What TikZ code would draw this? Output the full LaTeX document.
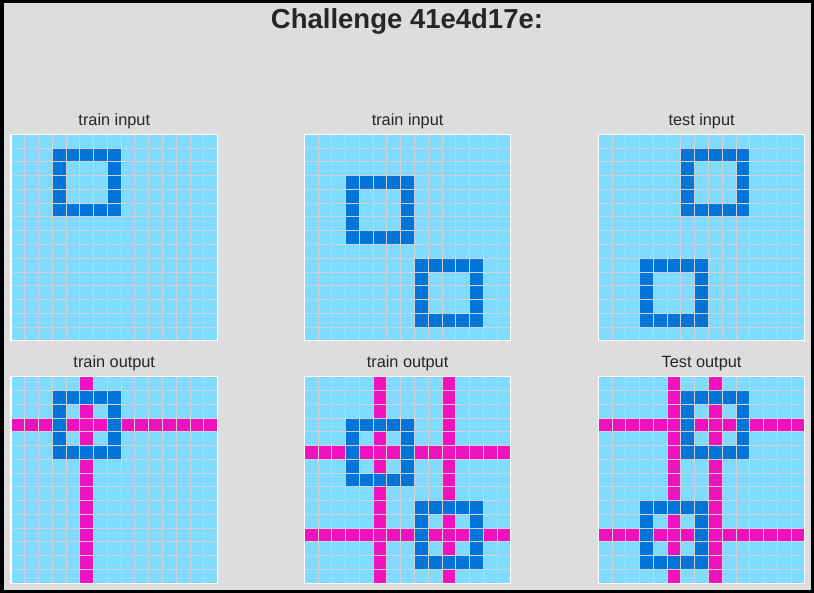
\documentclass[tikz,border=0pt]{standalone}
\usepackage{fontspec}
\setmainfont{Liberation Sans}
\usepackage{tikz}

\definecolor{sky}{HTML}{7FDBFF}
\definecolor{navy}{HTML}{0074D9}
\definecolor{pink}{HTML}{F012BE}
\definecolor{panel}{HTML}{DDDDDD}
\definecolor{ink}{HTML}{262626}

\def\cs{13.77}

% one 15x15 board: #1 name, #2 top left corner, #3 squares (row/col of top left cell), #4 1 = draw the lines
\newcommand{\arcboard}[4]{%
  \begin{scope}[shift={(#2)}]
    \fill[sky] (0,0) rectangle (15*\cs,15*\cs);
    \ifnum#4=1
      \foreach \r/\c in {#3} {
        \fill[pink] (0,{(\r+2)*\cs}) rectangle (15*\cs,{(\r+3)*\cs});
        \fill[pink] ({(\c+2)*\cs},0) rectangle ({(\c+3)*\cs},15*\cs);
      }
    \fi
    \foreach \r/\c in {#3}
      \fill[navy, even odd rule] ({\c*\cs},{\r*\cs}) rectangle ++(5*\cs,5*\cs)
        ({(\c+1)*\cs},{(\r+1)*\cs}) rectangle ++(3*\cs,3*\cs);
    \foreach \i in {1,...,14} {
      \draw[cellline] ({\i*\cs},0) -- ({\i*\cs},15*\cs);
      \draw[cellline] (0,{\i*\cs}) -- (15*\cs,{\i*\cs});
    }
    \draw[frame] (0,0) rectangle (15*\cs,15*\cs);
    \coordinate (#1) at (7.5*\cs,0);
  \end{scope}}

\begin{document}
\begin{tikzpicture}[
  x=1pt, y=-1pt,
  cellline/.style={draw=black!18, line width=0.9pt},
  frame/.style={draw=white, line width=1.2pt},
  heading/.style={anchor=base, text=ink, font=\fontsize{27.5}{30}\selectfont\bfseries},
  caption/.style={anchor=base, text=ink, font=\fontsize{16.3}{18}\selectfont, inner sep=0pt}
]
\fill[black] (0,0) rectangle (814,593);
\fill[panel] (3.5,3.5) rectangle (810.5,589.5);

\node[heading] (title) at (407,29) {Challenge 41e4d17e:};

% inputs
\arcboard{in1}{11,134.3}{1/3}{0}
\arcboard{in2}{304.3,134.3}{3/3,9/8}{0}
\arcboard{in3}{598.3,134.3}{1/6,9/3}{0}

% outputs
\arcboard{out1}{11,376.7}{1/3}{1}
\arcboard{out2}{304.3,376.7}{3/3,9/8}{1}
\arcboard{out3}{598.3,376.7}{1/6,9/3}{1}

\node[caption] (capin1) at ([yshift=8.3]in1) {train input};
\node[caption] (capin2) at ([yshift=8.3]in2) {train input};
\node[caption] (capin3) at ([yshift=8.3]in3) {test input};
\node[caption] (capout1) at ([yshift=9]out1) {train output};
\node[caption] (capout2) at ([yshift=9]out2) {train output};
\node[caption] (capout3) at ([yshift=9]out3) {Test output};
\end{tikzpicture}
\end{document}
